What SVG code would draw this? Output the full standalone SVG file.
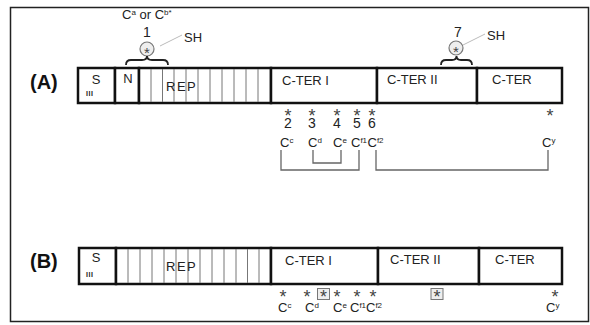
<svg xmlns="http://www.w3.org/2000/svg" width="590" height="325" viewBox="0 0 590 325">
<style>
text{font-family:"Liberation Sans",Arial,sans-serif;fill:#222;}
.lbl{font-size:13px;}
.sup{font-size:8px;}
.big{font-size:20px;font-weight:bold;fill:#111;}
.ast{font-size:18px;fill:#444;text-anchor:middle;}
.cast{font-size:15px;fill:#444;text-anchor:middle;}
.num{font-size:14px;text-anchor:middle;}
.iii{font-size:7px;font-weight:bold;letter-spacing:0.6px;}
.seg{fill:#fff;stroke:#111;stroke-width:2.5;}
.stripe{stroke:#777;stroke-width:1;}
.brk{fill:none;stroke:#666;stroke-width:1.3;}
.lead{stroke:#bbb;stroke-width:1;}
.circ{fill:#eee;stroke:#777;stroke-width:1.2;}
.box{fill:#eee;stroke:#777;stroke-width:1;}
.brace{fill:none;stroke:#222;stroke-width:1.8;}
</style>
<rect x="10.5" y="7.5" width="578" height="314" fill="#fff" stroke="#222" stroke-width="1.5"/>

<text class="big" x="30" y="89">(A)</text>
<text class="big" x="30" y="268">(B)</text>

<!-- Bar A -->
<g id="A-S"><rect class="seg" x="78" y="68" width="37" height="35"/><text class="lbl" x="96" y="84" text-anchor="middle">S</text><text class="iii" x="86" y="96">III</text></g>
<g id="A-N"><rect class="seg" x="115" y="68" width="24" height="35"/><text class="lbl" x="128" y="83" text-anchor="middle">N</text></g>
<g id="A-REP"><rect class="seg" x="139" y="68" width="132" height="35"/>
<g class="stripe"><line x1="151" y1="69" x2="151" y2="102"/><line x1="162.5" y1="69" x2="162.5" y2="102"/><line x1="174" y1="69" x2="174" y2="102"/><line x1="186" y1="69" x2="186" y2="102"/><line x1="198" y1="69" x2="198" y2="102"/><line x1="210" y1="69" x2="210" y2="102"/><line x1="222" y1="69" x2="222" y2="102"/><line x1="234" y1="69" x2="234" y2="102"/><line x1="246" y1="69" x2="246" y2="102"/><line x1="258" y1="69" x2="258" y2="102"/></g>
<text class="lbl" x="166" y="91" letter-spacing="1.5">REP</text></g>
<g id="A-CTER1"><rect class="seg" x="271" y="68" width="106" height="35"/><text class="lbl" x="282" y="85">C-TER I</text></g>
<g id="A-CTER2"><rect class="seg" x="377" y="68" width="100" height="35"/><text class="lbl" x="387" y="84">C-TER II</text></g>
<g id="A-CTER"><rect class="seg" x="477" y="68" width="85" height="35"/><text class="lbl" x="492" y="84">C-TER</text></g>

<!-- Bar B -->
<g id="B-S"><rect class="seg" x="79" y="248" width="37" height="36"/><text class="lbl" x="96" y="262" text-anchor="middle">S</text><text class="iii" x="86" y="277">III</text></g>
<g id="B-REP"><rect class="seg" x="116" y="248" width="155" height="36"/>
<g class="stripe"><line x1="128" y1="249" x2="128" y2="283"/><line x1="140" y1="249" x2="140" y2="283"/><line x1="152" y1="249" x2="152" y2="283"/><line x1="164" y1="249" x2="164" y2="283"/><line x1="176" y1="249" x2="176" y2="283"/><line x1="188" y1="249" x2="188" y2="283"/><line x1="200" y1="249" x2="200" y2="283"/><line x1="212" y1="249" x2="212" y2="283"/><line x1="224" y1="249" x2="224" y2="283"/><line x1="236" y1="249" x2="236" y2="283"/><line x1="247.5" y1="249" x2="247.5" y2="283"/><line x1="259" y1="249" x2="259" y2="283"/></g>
<text class="lbl" x="166" y="271" letter-spacing="1.5">REP</text></g>
<g id="B-CTER1"><rect class="seg" x="271" y="248" width="107" height="36"/><text class="lbl" x="285" y="265">C-TER I</text></g>
<g id="B-CTER2"><rect class="seg" x="378" y="248" width="101" height="36"/><text class="lbl" x="390" y="264">C-TER II</text></g>
<g id="B-CTER"><rect class="seg" x="479" y="248" width="83" height="36"/><text class="lbl" x="495" y="264">C-TER</text></g>

<!-- Top annotations -->
<g id="site1">
<text class="lbl" x="122" y="19">C<tspan class="sup" dy="-4">a</tspan><tspan dy="4"> or C</tspan><tspan class="sup" dy="-4">b*</tspan></text>
<text class="num" x="147" y="37">1</text>
<circle class="circ" cx="147" cy="49" r="7"/>
<text class="cast" x="147" y="57.6">*</text>
<text class="lbl" x="184" y="42">SH</text>
</g>
<g id="site7">
<text class="num" x="458" y="37">7</text>
<circle class="circ" cx="456" cy="48" r="7"/>
<text class="cast" x="456" y="56.6">*</text>
<text class="lbl" x="487" y="40">SH</text>
</g>

<!-- Asterisks / labels A -->
<g id="A-sites">
<text class="ast" x="288" y="122">*</text><text class="ast" x="312" y="122">*</text><text class="ast" x="337" y="122">*</text><text class="ast" x="357" y="122">*</text><text class="ast" x="372" y="122">*</text><text class="ast" x="550" y="122">*</text>
<text class="num" x="288" y="128">2</text><text class="num" x="312" y="128">3</text><text class="num" x="337" y="128">4</text><text class="num" x="357" y="128">5</text><text class="num" x="372" y="128">6</text>
<text class="lbl" x="280" y="147">C<tspan class="sup" dy="-4">c</tspan></text>
<text class="lbl" x="308" y="147">C<tspan class="sup" dy="-4">d</tspan></text>
<text class="lbl" x="333" y="147">C<tspan class="sup" dy="-4">e</tspan></text>
<text class="lbl" x="351" y="147">C<tspan class="sup" dy="-4">f1</tspan></text>
<text class="lbl" x="367.5" y="147">C<tspan class="sup" dy="-4">f2</tspan></text>
<text class="lbl" x="542" y="147">C<tspan class="sup" dy="-4">y</tspan></text>
</g>

<!-- Asterisks / labels B -->
<g id="B-sites">
<rect class="box" x="317.5" y="288.5" width="12" height="11"/>
<rect class="box" x="431" y="288.5" width="12" height="11"/>
<text class="ast" x="283" y="303">*</text><text class="ast" x="307" y="303">*</text><text class="ast" x="323.5" y="303">*</text><text class="ast" x="337" y="303">*</text><text class="ast" x="357" y="303">*</text><text class="ast" x="373" y="303">*</text><text class="ast" x="437" y="303">*</text><text class="ast" x="555" y="303">*</text>
<text class="lbl" x="278" y="312">C<tspan class="sup" dy="-4">c</tspan></text>
<text class="lbl" x="305" y="312">C<tspan class="sup" dy="-4">d</tspan></text>
<text class="lbl" x="333" y="312">C<tspan class="sup" dy="-4">e</tspan></text>
<text class="lbl" x="350" y="312">C<tspan class="sup" dy="-4">f1</tspan></text>
<text class="lbl" x="366" y="312">C<tspan class="sup" dy="-4">f2</tspan></text>
<text class="lbl" x="546" y="312">C<tspan class="sup" dy="-4">y</tspan></text>
</g>

<!-- Connectors -->
<g id="connectors">
<line class="lead" x1="160" y1="46" x2="182" y2="35"/>
<line class="lead" x1="463" y1="45" x2="485" y2="34"/>
<path class="brace" d="M126,65 Q126,60 131,60 H142 Q147,60 147,56 Q147,60 152,60 H163 Q168,60 168,65"/>
<path class="brace" d="M441,65 Q441,60 446,60 H452 Q456.5,60 456.5,56 Q456.5,60 461,60 H467 Q472,60 472,65"/>
<path class="brk" d="M281,150 V170 H359 V150"/>
<path class="brk" d="M313,150 V163 H341 V150"/>
<path class="brk" d="M376,150 V170 H548 V150"/>
</g>
</svg>
